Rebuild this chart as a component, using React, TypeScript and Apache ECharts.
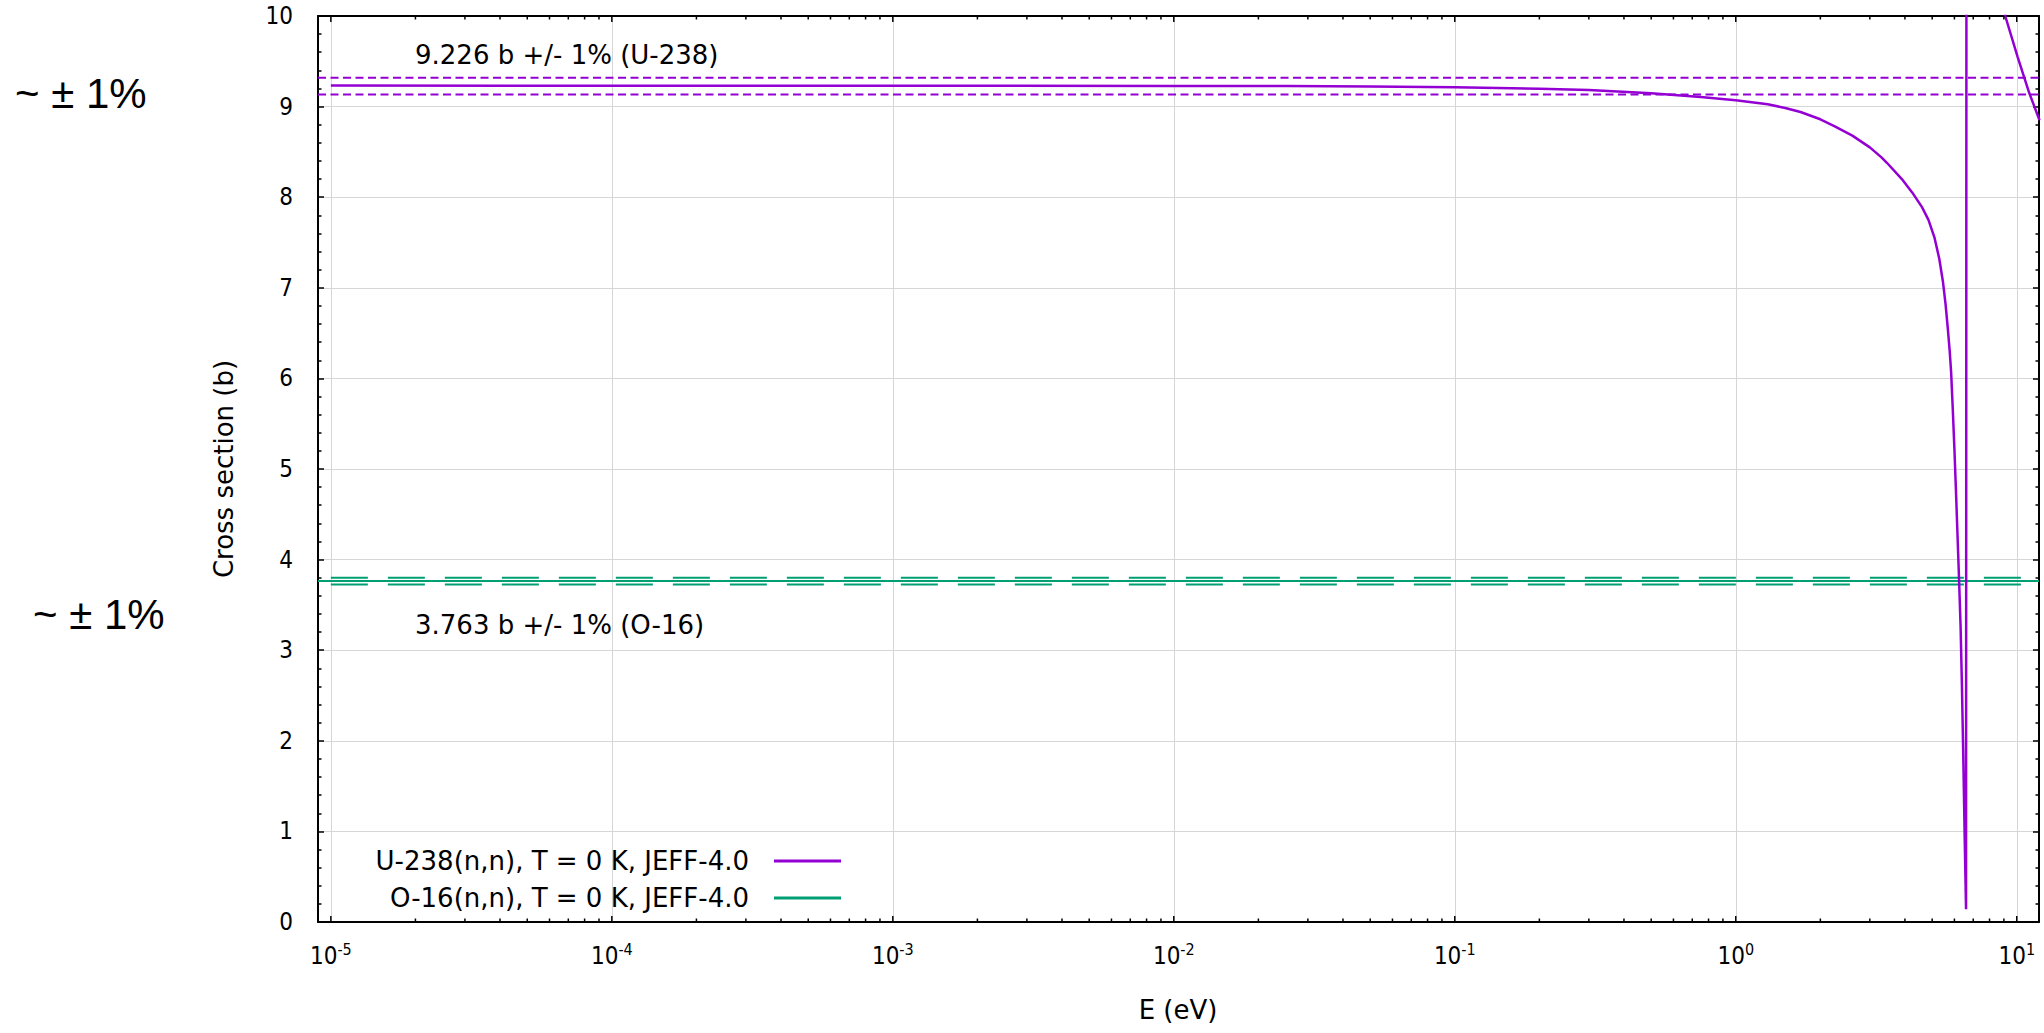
import React, { useEffect, useRef } from 'react';
import * as echarts from 'echarts';

// ---- data ----
const U_NAME = 'U-238(n,n), T = 0 K, JEFF-4.0';
const O_NAME = 'O-16(n,n), T = 0 K, JEFF-4.0';

const u238Energy = [
  1e-5, 1e-4, 1e-3, 1e-2, 0.0253, 0.05, 0.1, 0.2, 0.3, 0.5, 0.75, 1.0, 1.3, 1.5, 1.7, 2.0,
  2.26, 2.6, 3.0, 3.3, 3.45, 3.9, 4.25, 4.6, 4.85, 5.1, 5.3, 5.46, 5.58, 5.68, 5.77, 5.84,
  5.92, 6.0, 6.07, 6.14, 6.23, 6.31, 6.38, 6.45, 6.53,
  6.6, 6.66, 6.674, 6.69, 6.75, 7.0, 8.0, 9.1, 10.07, 11.08, 12.05,
];
const u238Sigma = [
  9.232, 9.231, 9.23, 9.228, 9.226, 9.222, 9.214, 9.198, 9.182, 9.148, 9.105, 9.07, 9.025, 8.985, 8.94, 8.86,
  8.78, 8.68, 8.55, 8.44, 8.38, 8.2, 8.05, 7.89, 7.75, 7.55, 7.32, 7.07, 6.82, 6.56, 6.31, 6.07,
  5.66, 5.22, 4.8, 4.36, 3.8, 3.27, 2.62, 1.85, 0.9,
  0.14, 30, 500, 150, 60, 30, 14, 10.0, 9.55, 9.15, 8.85,
];

const o16Energy = [9e-6, 1e-4, 1e-2, 1, 12];
const o16Sigma = [3.763, 3.763, 3.763, 3.763, 3.763];

const u238BandEnergy = [9e-6, 12];
const u238Upper = [9.318, 9.318];
const u238Lower = [9.134, 9.134];

const o16BandEnergy = [1e-5, 12];
const o16Upper = [3.801, 3.801];
const o16Lower = [3.725, 3.725];

const xMajorTicks = [1e-5, 1e-4, 1e-3, 1e-2, 1e-1, 1, 10];
const xMinorMantissas = [2, 3, 4, 5, 6, 7, 8, 9];

const X_MIN = 9e-6;
const X_MAX = 12;
const Y_MIN = 0;
const Y_MAX = 10;

const U_COLOR = '#9400D3';
const O_COLOR = '#009E73';

export default function App() {
  const ref = useRef<HTMLDivElement>(null);

  useEffect(() => {
    if (!ref.current) return;
    const chart = echarts.init(ref.current, null, { renderer: 'svg' });
    const tickFont = "'DejaVu Sans Condensed', 'DejaVu Sans', sans-serif";
    const textFont = "'DejaVu Sans', Verdana, sans-serif";
    const zip = (xs: number[], ys: number[]) => xs.map((x, i) => [x, ys[i]]);

    const minorTicks: number[] = [];
    xMajorTicks.forEach((m) => {
      xMinorMantissas.forEach((k) => {
        const v = m * k;
        if (v > X_MIN && v < X_MAX) minorTicks.push(v);
      });
    });
    const tickData = [
      ...xMajorTicks.map((v) => [v, 1]),
      ...minorTicks.map((v) => [v, 0]),
    ];

    const axisLineStyle = { show: true, onZero: false, lineStyle: { color: '#000', width: 2 } };
    const gridLine = { show: true, lineStyle: { color: '#d6d6d6', width: 1 } };

    const option: any = {
      animation: false,
      backgroundColor: '#ffffff',
      grid: { left: 318, right: 5, top: 16, bottom: 111, containLabel: false },
      xAxis: [
        {
          type: 'log',
          logBase: 10,
          min: X_MIN,
          max: X_MAX,
          position: 'bottom',
          axisLine: axisLineStyle,
          axisTick: { show: false },
          splitLine: gridLine,
          axisLabel: {
            margin: 19,
            formatter: (v: number) => {
              const l = Math.log10(v);
              const n = Math.round(l);
              if (Math.abs(l - n) > 0.001) return '';
              return '{b|10}{s|' + n + '}';
            },
            rich: {
              b: { fontSize: 24, fontFamily: tickFont, color: '#000', lineHeight: 30 },
              s: { fontSize: 16, fontFamily: tickFont, color: '#000', verticalAlign: 'top' },
            },
          },
        },
        {
          type: 'log',
          logBase: 10,
          min: X_MIN,
          max: X_MAX,
          position: 'top',
          axisLine: axisLineStyle,
          axisTick: { show: false },
          splitLine: { show: false },
          axisLabel: { show: false },
        },
      ],
      yAxis: [
        {
          type: 'value',
          min: Y_MIN,
          max: Y_MAX,
          interval: 1,
          position: 'left',
          axisLine: axisLineStyle,
          axisTick: { show: true, inside: true, length: 6, lineStyle: { color: '#000', width: 1.5 } },
          minorTick: { show: true, splitNumber: 5, length: 3.5, lineStyle: { color: '#000', width: 1.5 } },
          splitLine: gridLine,
          axisLabel: { margin: 25, fontSize: 24, fontFamily: tickFont, color: '#000' },
        },
        {
          type: 'value',
          min: Y_MIN,
          max: Y_MAX,
          interval: 1,
          position: 'right',
          axisLine: axisLineStyle,
          axisTick: { show: true, inside: true, length: 6, lineStyle: { color: '#000', width: 1.5 } },
          minorTick: { show: true, splitNumber: 5, length: 3.5, lineStyle: { color: '#000', width: 1.5 } },
          splitLine: { show: false },
          axisLabel: { show: false },
        },
      ],
      legend: {
        orient: 'vertical',
        align: 'right',
        right: 1203,
        top: 846,
        padding: 0,
        itemWidth: 67,
        itemHeight: 3,
        itemGap: 7,
        selectedMode: false,
        textStyle: {
          fontSize: 26,
          fontFamily: textFont,
          color: '#000',
          lineHeight: 30,
          padding: [0, 20, 0, 0],
        },
        data: [
          { name: U_NAME, icon: 'rect' },
          { name: O_NAME, icon: 'rect' },
        ],
      },
      series: [
        {
          name: 'O-16 +1%',
          type: 'line',
          data: zip(o16BandEnergy, o16Upper),
          symbol: 'none',
          lineStyle: { color: O_COLOR, width: 2, type: [37, 20] },
          z: 2,
          silent: true,
        },
        {
          name: 'O-16 -1%',
          type: 'line',
          data: zip(o16BandEnergy, o16Lower),
          symbol: 'none',
          lineStyle: { color: O_COLOR, width: 2, type: [37, 20] },
          z: 2,
          silent: true,
        },
        {
          name: O_NAME,
          type: 'line',
          data: zip(o16Energy, o16Sigma),
          symbol: 'none',
          color: O_COLOR,
          itemStyle: { color: O_COLOR },
          lineStyle: { color: O_COLOR, width: 2 },
          z: 3,
        },
        {
          name: 'U-238 +1%',
          type: 'line',
          data: zip(u238BandEnergy, u238Upper),
          symbol: 'none',
          lineStyle: { color: U_COLOR, width: 2, type: [8, 4.5] },
          z: 2,
          silent: true,
        },
        {
          name: 'U-238 -1%',
          type: 'line',
          data: zip(u238BandEnergy, u238Lower),
          symbol: 'none',
          lineStyle: { color: U_COLOR, width: 2, type: [8, 4.5] },
          z: 2,
          silent: true,
        },
        {
          name: U_NAME,
          type: 'line',
          data: zip(u238Energy, u238Sigma),
          symbol: 'none',
          color: U_COLOR,
          itemStyle: { color: U_COLOR },
          lineStyle: { color: U_COLOR, width: 2.5 },
          z: 4,
        },
        {
          name: 'xticks',
          type: 'custom',
          silent: true,
          clip: false,
          z: 6,
          data: tickData,
          encode: { x: 0, y: 1 },
          renderItem: (params: any, api: any) => {
            const v = api.value(0);
            const major = api.value(1) === 1;
            const len = major ? 6 : 3.5;
            const b = api.coord([v, Y_MIN]);
            const t = api.coord([v, Y_MAX]);
            const st = { stroke: '#000', lineWidth: 1.5 };
            return {
              type: 'group',
              children: [
                { type: 'line', shape: { x1: b[0], y1: b[1], x2: b[0], y2: b[1] - len }, style: st },
                { type: 'line', shape: { x1: t[0], y1: t[1], x2: t[0], y2: t[1] + len }, style: st },
              ],
            };
          },
        },
      ],
      graphic: [
        {
          type: 'text',
          x: 15,
          y: 93,
          style: { text: '~ ± 1%', fontSize: 42, fontFamily: "'Liberation Sans', Arial, sans-serif", fill: '#000', align: 'left', verticalAlign: 'middle' },
        },
        {
          type: 'text',
          x: 33,
          y: 614,
          style: { text: '~ ± 1%', fontSize: 42, fontFamily: "'Liberation Sans', Arial, sans-serif", fill: '#000', align: 'left', verticalAlign: 'middle' },
        },
        {
          type: 'text',
          x: 415,
          y: 55,
          style: { text: '9.226 b +/- 1% (U-238)', fontSize: 26, fontFamily: textFont, fill: '#000', align: 'left', verticalAlign: 'middle' },
        },
        {
          type: 'text',
          x: 415,
          y: 625,
          style: { text: '3.763 b +/- 1% (O-16)', fontSize: 26, fontFamily: textFont, fill: '#000', align: 'left', verticalAlign: 'middle' },
        },
        {
          type: 'text',
          x: 224,
          y: 469,
          rotation: Math.PI / 2,
          style: { text: 'Cross section (b)', fontSize: 26, fontFamily: textFont, fill: '#000', align: 'center', verticalAlign: 'middle' },
        },
        {
          type: 'text',
          x: 1178,
          y: 1010,
          style: { text: 'E (eV)', fontSize: 26, fontFamily: textFont, fill: '#000', align: 'center', verticalAlign: 'middle' },
        },
      ],
    };

    chart.setOption(option);
    return () => {
      chart.dispose();
    };
  }, []);

  return (
    <div
      ref={ref}
      style={{ position: 'fixed', left: 0, top: 0, width: 2044, height: 1033, background: '#fff' }}
    />
  );
}
